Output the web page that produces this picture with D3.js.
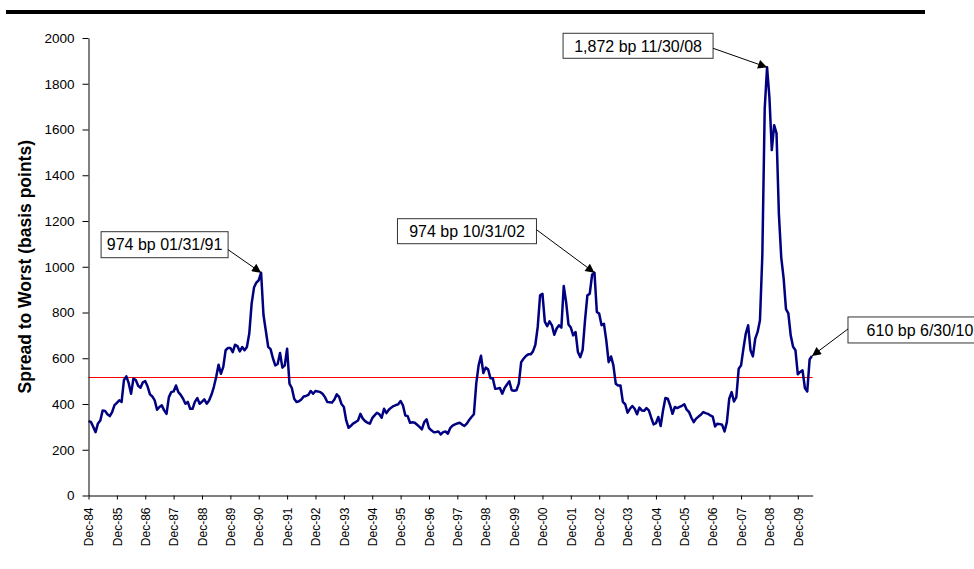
<!DOCTYPE html>
<html>
<head>
<meta charset="utf-8">
<script src="https://cdn.jsdelivr.net/npm/d3@7"></script>
<style>
  html, body { margin: 0; padding: 0; background: #fff; }
  svg { display: block; font-family: "Liberation Sans", Arial, sans-serif; }
</style>
</head>
<body>
<svg id="chart" width="974" height="569"></svg>
<script>
// Monthly spread to worst (bp), Dec-84 .. Jun-10 (rows of 12 starting in December)
const spread = [
  325, 322, 300, 277, 315, 328, 372, 370, 355, 347, 365, 395,
  405, 416, 409, 505, 521, 491, 445, 511, 505, 480, 471, 495,
  500, 476, 442, 433, 416, 375, 387, 394, 372, 357, 430, 452,
  455, 481, 452, 440, 423, 401, 409, 379, 379, 409, 426, 401,
  410, 420, 401, 415, 440, 474, 518, 572, 532, 562, 635, 645,
  645, 627, 659, 653, 630, 649, 635, 649, 708, 839, 909, 931,
  941, 974, 790, 720, 650, 640, 600, 569, 575, 623, 559, 569,
  642, 489, 470, 423, 409, 412, 420, 433, 435, 440, 457, 445,
  457, 455, 452, 445, 430, 409, 408, 406, 420, 442, 431, 400,
  387, 328, 296, 305, 315, 321, 328, 357, 336, 325, 318, 314,
  338, 350, 362, 355, 340, 379, 360, 375, 384, 391, 395, 399,
  413, 394, 350, 347, 318, 320, 318, 309, 300, 289, 321, 333,
  295, 285, 277, 278, 280, 267, 277, 280, 270, 295, 306, 311,
  315, 318, 310, 304, 314, 330, 343, 355, 489, 569, 611, 535,
  559, 552, 513, 513, 467, 468, 470, 445, 470, 485, 499, 460,
  458, 460, 489, 583, 598, 610, 617, 617, 630, 659, 737, 875,
  882, 760, 740, 761, 744, 703, 730, 744, 734, 916, 846, 748,
  734, 700, 715, 627, 605, 637, 766, 875, 882, 965, 974, 802,
  795, 744, 751, 678, 583, 608, 569, 489, 481, 481, 409, 399,
  362, 379, 391, 379, 355, 384, 372, 370, 382, 372, 340, 311,
  316, 343, 304, 372, 426, 423, 394, 357, 387, 382, 387, 392,
  399, 375, 365, 340, 321, 336, 345, 353, 365, 360, 357, 350,
  345, 302, 314, 312, 309, 280, 321, 423, 452, 411, 430, 554,
  569, 642, 708, 744, 635, 608, 686, 715, 766, 1050, 1690, 1872,
  1740, 1510, 1619, 1583, 1230, 1040, 950, 815, 796, 700, 650, 635,
  530, 540, 547, 470, 455, 595, 610
];

const xTickLabels = [
  "Dec-84","Dec-85","Dec-86","Dec-87","Dec-88","Dec-89","Dec-90","Dec-91","Dec-92",
  "Dec-93","Dec-94","Dec-95","Dec-96","Dec-97","Dec-98","Dec-99","Dec-00","Dec-01",
  "Dec-02","Dec-03","Dec-04","Dec-05","Dec-06","Dec-07","Dec-08","Dec-09"
];
const yTicks = [0, 200, 400, 600, 800, 1000, 1200, 1400, 1600, 1800, 2000];
const averageSpread = 516;
const annotationLabels = ["974 bp 01/31/91", "974 bp 10/31/02", "1,872 bp 11/30/08", "610 bp 6/30/10"];
const annotationIndex = [73, 214, 287, 306];
const yTitle = "Spread to Worst (basis points)";

// ---- layout ----
const svg = d3.select("#chart");
const plotLeft = 88.5, plotRight = 812.7, plotTop = 38, plotBottom = 495.5;
const x = d3.scaleLinear().domain([0, 306.3]).range([plotLeft, plotRight]);
const y = d3.scaleLinear().domain([0, 2000]).range([plotBottom, plotTop]);

svg.append("rect").attr("width", 974).attr("height", 569).attr("fill", "#fff");

// top rule
svg.append("rect").attr("x", 6).attr("y", 10).attr("width", 919).attr("height", 4).attr("fill", "#000");

// average line
const avgY = Math.round(y(averageSpread)) + 0.5;
svg.append("line")
  .attr("x1", plotLeft).attr("x2", plotRight)
  .attr("y1", avgY).attr("y2", avgY)
  .attr("stroke", "#ff0000").attr("stroke-width", 1.2);

// series line
const line = d3.line().x((d, i) => x(i)).y(d => y(d));
svg.append("path").datum(spread)
  .attr("d", line)
  .attr("fill", "none")
  .attr("stroke", "#000080")
  .attr("stroke-width", 2.5)
  .attr("stroke-linejoin", "round");

// y axis
const yAxis = svg.append("g").attr("transform", `translate(${plotLeft},0)`)
  .call(d3.axisLeft(y).tickValues(yTicks).tickSize(6).tickPadding(8).tickSizeOuter(0).tickFormat(d3.format("d")));
yAxis.select(".domain").attr("stroke", "#000");
yAxis.selectAll(".tick line").attr("stroke", "#000");
yAxis.selectAll("text").attr("font-size", 13.5).attr("fill", "#000")
  .attr("font-family", "Liberation Sans, Arial, sans-serif");

// x axis
const xAxis = svg.append("g").attr("transform", `translate(0,${plotBottom})`)
  .call(d3.axisBottom(x).tickValues(d3.range(0, 301, 12)).tickSize(4).tickSizeOuter(0)
    .tickFormat((d, i) => xTickLabels[i]));
xAxis.select(".domain").attr("stroke", "#000");
xAxis.selectAll(".tick line").attr("stroke", "#000");
xAxis.selectAll("text")
  .attr("font-size", 12).attr("fill", "#000")
  .attr("font-family", "Liberation Sans, Arial, sans-serif")
  .attr("transform", "translate(0,12) rotate(-90)")
  .attr("text-anchor", "end")
  .attr("x", 0).attr("y", 0).attr("dy", "0.35em");

// y title
svg.append("text")
  .attr("transform", `translate(31,${(plotTop + plotBottom) / 2}) rotate(-90)`)
  .attr("text-anchor", "middle")
  .attr("font-size", 17.5).attr("font-weight", "bold").attr("fill", "#000")
  .text(yTitle);

// annotations (box offsets relative to the pointed data point)
const boxLayout = [
  { dx: -160, dy: -41, w: 127, h: 26, ax: "right", ay: 18 },
  { dx: -197, dy: -54, w: 139, h: 25, ax: "right", ay: 11 },
  { dx: -204, dy: -34, w: 150, h: 25, ax: "right", ay: 15 },
  { dx: 36,   dy: -39, w: 150, h: 26, ax: "left",  ay: 12, tx: 72 }
];

const defs = svg.append("defs");
defs.append("marker").attr("id", "arrow")
  .attr("viewBox", "0 0 10 10").attr("refX", 10).attr("refY", 5)
  .attr("markerWidth", 11).attr("markerHeight", 9)
  .attr("markerUnits", "userSpaceOnUse")
  .attr("orient", "auto")
  .append("path").attr("d", "M0,0 L10,5 L0,10 Z").attr("fill", "#000");

annotationLabels.forEach((label, k) => {
  const idx = annotationIndex[k];
  const tx = x(idx), ty = y(spread[idx]);
  const b = boxLayout[k];
  const bx = tx + b.dx, by = ty + b.dy;
  const g = svg.append("g");
  g.append("rect").attr("x", bx).attr("y", by).attr("width", b.w).attr("height", b.h)
    .attr("fill", "#fff").attr("stroke", "#333").attr("stroke-width", 1);
  g.append("text").attr("x", bx + (b.tx !== undefined ? b.tx : b.w / 2)).attr("y", by + b.h / 2)
    .attr("dy", "0.36em").attr("text-anchor", "middle")
    .attr("font-size", 16).attr("fill", "#000").text(label);
  const sx = b.ax === "right" ? bx + b.w : bx;
  const sy = by + b.ay;
  g.append("line").attr("x1", sx).attr("y1", sy).attr("x2", tx).attr("y2", ty)
    .attr("stroke", "#000").attr("stroke-width", 1)
    .attr("marker-end", "url(#arrow)");
});
</script>
</body>
</html>
